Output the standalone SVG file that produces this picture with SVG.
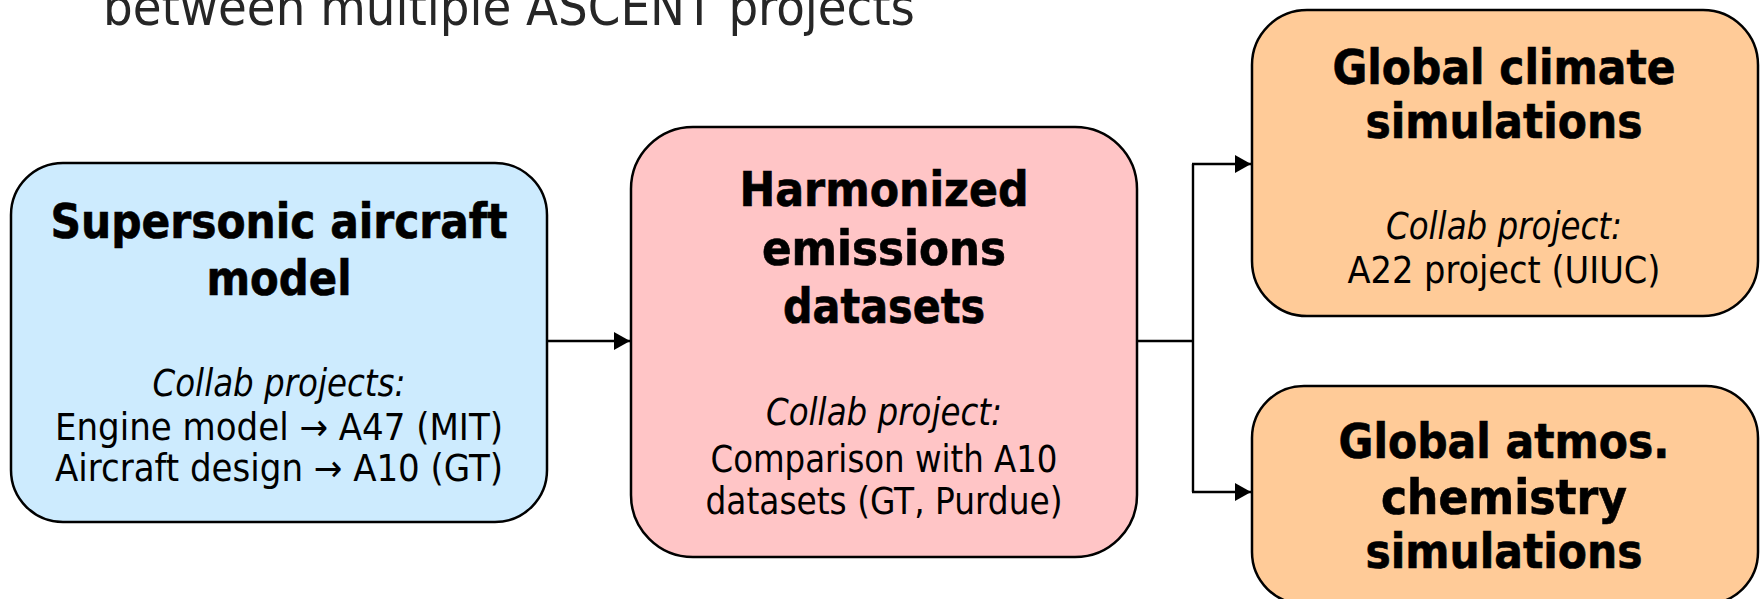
<svg xmlns="http://www.w3.org/2000/svg" width="1761" height="599" viewBox="0 0 1761 599">
<style>
.box{stroke:#000;stroke-width:2.5}
.b{font-family:"DejaVu Sans Condensed","DejaVu Sans",sans-serif;font-weight:bold;font-size:47.5px;fill:#000;stroke:#000;stroke-width:0.6;text-anchor:middle}
.r{font-family:"DejaVu Sans Condensed","DejaVu Sans",sans-serif;font-size:37px;fill:#000;text-anchor:middle}
.i{font-style:italic}
.t{font-family:"DejaVu Sans Condensed","DejaVu Sans",sans-serif;font-size:52px;fill:#262626}
.c{stroke:#000;stroke-width:2.4;fill:none}
</style>
<defs>
<marker id="ah" viewBox="0 0 16 18" refX="16" refY="9" markerWidth="16" markerHeight="18" markerUnits="userSpaceOnUse" orient="auto">
<path d="M0,0 L16,9 L0,18 z" fill="#000"/>
</marker>
</defs>
<rect width="1761" height="599" fill="#fff"/>
<text class="t" x="103" y="25" textLength="812" lengthAdjust="spacingAndGlyphs">between multiple ASCENT projects</text>
<g id="connectors">
<path class="c" d="M547,341 H630" marker-end="url(#ah)"/>
<path class="c" d="M1137,341 H1193 M1193,164 V492"/>
<path class="c" d="M1192,164 H1251" marker-end="url(#ah)"/>
<path class="c" d="M1192,492 H1251" marker-end="url(#ah)"/>
</g>
<g id="node-aircraft">
<rect class="box" x="11" y="163" width="536" height="359" rx="52" fill="#CDEBFE"/>
<text class="b" x="279" y="238" textLength="457" lengthAdjust="spacingAndGlyphs">Supersonic aircraft</text>
<text class="b" x="279" y="295" textLength="145" lengthAdjust="spacingAndGlyphs">model</text>
<text class="r i" x="279" y="396" textLength="253" lengthAdjust="spacingAndGlyphs">Collab projects:</text>
<text class="r" x="279" y="440" textLength="448" lengthAdjust="spacingAndGlyphs">Engine model → A47 (MIT)</text>
<text class="r" x="279" y="481" textLength="448" lengthAdjust="spacingAndGlyphs">Aircraft design → A10 (GT)</text>
</g>
<g id="node-emissions">
<rect class="box" x="631" y="127" width="506" height="430" rx="62" fill="#FFC5C6"/>
<text class="b" x="884" y="206" textLength="289" lengthAdjust="spacingAndGlyphs">Harmonized</text>
<text class="b" x="884" y="265" textLength="244" lengthAdjust="spacingAndGlyphs">emissions</text>
<text class="b" x="884" y="323" textLength="202" lengthAdjust="spacingAndGlyphs">datasets</text>
<text class="r i" x="884" y="425" textLength="236" lengthAdjust="spacingAndGlyphs">Collab project:</text>
<text class="r" x="884" y="472" textLength="347" lengthAdjust="spacingAndGlyphs">Comparison with A10</text>
<text class="r" x="884" y="514" textLength="357" lengthAdjust="spacingAndGlyphs">datasets (GT, Purdue)</text>
</g>
<g id="node-climate">
<rect class="box" x="1252" y="10" width="506" height="306" rx="55" fill="#FFCB98"/>
<text class="b" x="1504" y="84" textLength="343" lengthAdjust="spacingAndGlyphs">Global climate</text>
<text class="b" x="1504" y="138" textLength="277" lengthAdjust="spacingAndGlyphs">simulations</text>
<text class="r i" x="1504" y="239" textLength="236" lengthAdjust="spacingAndGlyphs">Collab project:</text>
<text class="r" x="1504" y="283" textLength="313" lengthAdjust="spacingAndGlyphs">A22 project (UIUC)</text>
</g>
<g id="node-chemistry">
<rect class="box" x="1252" y="386" width="506" height="218" rx="52" fill="#FFCB98"/>
<text class="b" x="1504" y="458" textLength="331" lengthAdjust="spacingAndGlyphs">Global atmos.</text>
<text class="b" x="1504" y="514" textLength="246" lengthAdjust="spacingAndGlyphs">chemistry</text>
<text class="b" x="1504" y="568" textLength="277" lengthAdjust="spacingAndGlyphs">simulations</text>
</g>
</svg>
